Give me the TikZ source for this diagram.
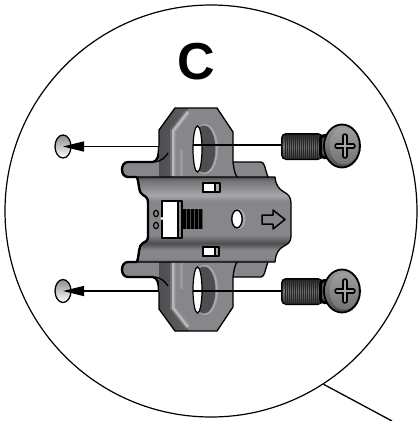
\documentclass[tikz,border=0pt]{standalone}
\usepackage{fontspec}
\setmainfont{Liberation Sans}
\usepackage{xcolor}
\usetikzlibrary{arrows.meta,shapes.geometric}
\definecolor{platemid}{HTML}{87878b}
\definecolor{platedark}{HTML}{4e4e50}
\definecolor{platelight}{HTML}{a8a8ac}
\definecolor{screwdark}{HTML}{55555a}
\pgfdeclareverticalshading{platebands}{100bp}{
  color(0bp)=(platemid); color(25bp)=(platedark!70!platemid); color(27bp)=(platemid);
  color(32bp)=(platemid); color(36bp)=(platedark); color(41bp)=(platemid);
  color(61bp)=(platemid); color(64bp)=(platelight); color(73bp)=(platemid!85!black);
  color(75bp)=(platedark); color(100bp)=(platedark)}
\tikzset{
  lens/.style={circle,draw=black,line width=1.2pt,minimum size=412pt,inner sep=0pt},
  holemark/.style={ellipse,draw=black,line width=1.3pt,minimum width=16pt,minimum height=23pt,
    inner sep=0pt,top color=black!45,bottom color=white},
  guide/.style={draw=black,line width=1.3pt},
  edge/.style={draw=black,line width=1.3pt,line join=round},
  thickedge/.style={draw=black,line width=2.4pt,line join=round},
}
% one fixing ear with its two flanges, as seen above the plate
\newcommand{\earpart}{
  \fill[platemid] (137,177) -- (128,177) .. controls (120,177) and (120,162) .. (128,162)
    -- (153,162) .. controls (158,161) and (159,155) .. (159,147) -- (170,178) -- cycle;
  \draw[thickedge] (137,177) -- (128,177) .. controls (120,177) and (120,162) .. (128,162)
    -- (153,162) .. controls (158,161) and (159,155) .. (159,147);
  \fill[platemid] (233,162) -- (261,162) .. controls (265,162) and (265,170) .. (268,177) -- (233,178) -- cycle;
  \draw[edge] (233,162) -- (261,162) .. controls (265,162) and (265,170) .. (268,177);
  \fill[platemid] (159,147) -- (159,130) -- (175,108) -- (217,108) -- (233,132)
    -- (233,162) .. controls (234,170) and (235,175) .. (238,178) -- (159,178) -- cycle;
  \shade[left color=platedark,right color=platemid!70!black] (159,178) -- (159,130) -- (175,108) -- (189,108)
    -- (172,131) -- (172,178) -- cycle;
  \draw[platelight,line width=6pt,opacity=0.35] (173,176) -- (173,131) -- (188,112);
  \draw[platelight!60!white,line width=2.5pt,opacity=0.7] (173,176) -- (173,131) -- (188,112);
  \draw[platelight,line width=3pt,opacity=0.6] (181,176) -- (181,150);
  \draw[edge] (159,147) -- (159,130) -- (175,108) -- (217,108) -- (233,132)
    -- (233,162) .. controls (234,170) and (235,175) .. (238,178);
  \draw[edge] (155,162) .. controls (161,161) and (165,158) .. (168,153);
  \fill[platelight] (205,149) ellipse[x radius=13,y radius=25];
  \fill[platedark] (204,149) ellipse[x radius=11.5,y radius=23.5];
  \draw[black,line width=1.2pt,fill=white] (197.5,149) ellipse[x radius=4.5,y radius=23];
}
% screw with its thread, neck and head
\newcommand{\screwat}[1]{
  \begin{scope}[shift={(0,#1)}]
    \fill[black,rounded corners=5pt] (281,-13) rectangle (323,14);
    \shade[top color=black!85,bottom color=black!80,middle color=black!55,rounded corners=4pt] (282.5,-11.5) rectangle (322,12.5);
    \foreach \xx in {285,287,...,319}
      \draw[black!85,line width=0.6pt] (\xx,-11.5) -- (\xx,12.5);
    \fill[black,rounded corners=5pt] (319,-12) rectangle (332,13);
    \fill[screwdark,rounded corners=3pt] (322,-9) rectangle (328,10);
    \draw[black,line width=1.8pt,top color=black!40,bottom color=black!70] (342,0) ellipse[x radius=18,y radius=21.5];
    \shade[top color=black!38,bottom color=black!55] (344,0) ellipse[x radius=14.5,y radius=18.5];
    \draw[black,line width=5.5pt,line cap=round] (337,0) -- (353,0) (345,-10) -- (345,10);
    \draw[black!35,line width=2.2pt,line cap=round] (337,0) -- (353,0) (345,-10) -- (345,10);
  \end{scope}
}
\begin{document}
\begin{tikzpicture}[x=1pt,y=-1pt]
  \useasboundingbox (0,0) rectangle (418,421);
  \node[lens] (lens) at (211,211) {};
  \coordinate (tail) at (392,421);
  \draw[black,line width=1.3pt] (lens.-57) -- (tail);
  \node[font=\bfseries] (title) at (196,62) {\fontsize{52}{52}\selectfont C};

  \node[holemark] (holeA) at (63,146.5) {};
  \node[holemark] (holeB) at (63,291) {};

  \earpart
  \begin{scope}[shift={(0,439)},yscale=-1]
    \earpart
  \end{scope}

  % plate body
  \shade[shading=platebands] (140,177) -- (275,177) .. controls (276,186) and (279,189) .. (284,192)
    .. controls (288,194) and (291,197) .. (291,203) -- (291,236) .. controls (291,242) and (288,244) .. (284,246)
    .. controls (279,249) and (276,252) .. (275,262) -- (137,262) .. controls (140,252) and (138,246) .. (143,243)
    .. controls (147,241) and (148,240) .. (148,236) -- (148,203) .. controls (148,199) and (147,197) .. (143,195)
    .. controls (138,192) and (140,187) .. (137,177) -- cycle;
  \draw[edge] (137,177) -- (275,177) .. controls (276,186) and (279,189) .. (284,192)
    .. controls (288,194) and (291,197) .. (291,203) -- (291,236) .. controls (291,242) and (288,244) .. (284,246)
    .. controls (279,249) and (276,252) .. (275,262) -- (137,262);
  \draw[thickedge] (137,262) .. controls (140,252) and (138,246) .. (143,243)
    .. controls (147,241) and (148,240) .. (148,236) -- (148,203) .. controls (148,199) and (147,197) .. (143,195)
    .. controls (138,192) and (140,187) .. (137,177);

  % small windows
  \draw[edge,fill=platelight] (203,183) rectangle (220,192);
  \draw[edge,fill=white] (203,183) rectangle (215,192);
  \draw[edge,fill=platelight] (203,247) rectangle (219,256);
  \draw[edge,fill=white] (203,247) rectangle (215,256);

  % slider and its ribbed block
  \fill[black] (182,209) rectangle (203,229);
  \foreach \xx in {186,190,...,202}
    \draw[black!70,line width=0.35pt] (\xx,209) -- (\xx,229);
  \draw[edge,fill=platemid] (162,201) rectangle (182,238);
  \draw[edge,fill=white] (162,201) rectangle (178,238);
  \fill[white] (162,218.5) circle[radius=1.6];
  \draw[black,line width=1.2pt] (156,213.5) ellipse[x radius=2.4,y radius=3.2];
  \draw[black,line width=1.2pt] (156,225.5) ellipse[x radius=2.4,y radius=3.2];

  % centre hole and arrow
  \fill[platelight] (239,219) ellipse[x radius=6.5,y radius=10];
  \draw[black,line width=1.4pt,fill=white] (237,219) ellipse[x radius=5.2,y radius=8.8];
  \draw[edge,line width=1.5pt,fill=platemid] (262,215) -- (273,215) -- (273,210) -- (285,219.5)
    -- (273,229) -- (273,224) -- (262,224) -- cycle;

  \screwat{146}
  \screwat{291}

  % guide lines
  \coordinate (earA) at (159,146.5);
  \coordinate (earB) at (159,291);
  \coordinate (slotA) at (193,145);
  \coordinate (slotB) at (193,291);
  \coordinate (screwA) at (281,145);
  \coordinate (screwB) at (281,291);
  \draw[guide,-{Triangle[length=21pt,width=10pt]}] (earA) -- (holeA.center);
  \draw[guide,-{Triangle[length=21pt,width=10pt]}] (earB) -- (holeB.center);
  \draw[guide] (slotA) -- (screwA);
  \draw[guide] (slotB) -- (screwB);
\end{tikzpicture}
\end{document}
